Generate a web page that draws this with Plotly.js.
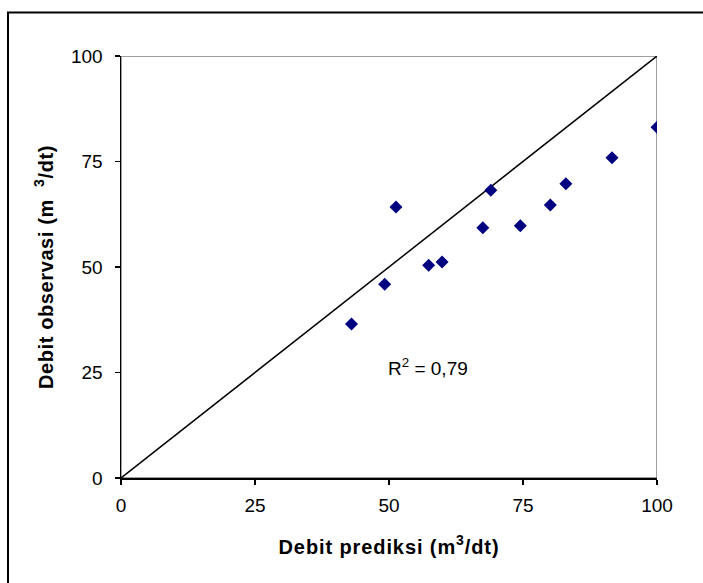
<!DOCTYPE html>
<html>
<head>
<meta charset="utf-8">
<script src="https://cdn.plot.ly/plotly-3.0.1.min.js"></script>
<style>
html,body{margin:0;padding:0;background:#fff;}
#chart{width:703px;height:583px;}
.xtitle{letter-spacing:0.9px;}
.ytitle{letter-spacing:0.6px;}
</style>
</head>
<body>
<div id="chart"></div>
<script>
// Observed vs predicted discharge (m3/dt)
var predicted = [43.0, 49.2, 51.3, 57.4, 59.9, 67.5, 69.0, 74.5, 80.1, 83.0, 91.6, 100.0];
var observed  = [36.5, 45.9, 64.2, 50.4, 51.2, 59.3, 68.2, 59.8, 64.7, 69.7, 75.9, 83.1];
var lineX = [0, 100];
var lineY = [0, 100];
var tickVals = [0, 25, 50, 75, 100];
var tickText = ["0", "25", "50", "75", "100"];
var r2Label = "R<sup>2</sup> = 0,79";

var font = "Liberation Sans, Arial, sans-serif";

var traces = [
  {
    x: lineX, y: lineY, type: "scatter", mode: "lines",
    line: {color: "#000000", width: 1.5}, hoverinfo: "skip", showlegend: false
  },
  {
    x: predicted, y: observed, type: "scatter", mode: "markers",
    marker: {symbol: "diamond", size: 10, color: "#000080", line: {width: 0}},
    showlegend: false
  }
];

var layout = {
  width: 703, height: 583,
  margin: {l: 121, r: 46, t: 56, b: 105},
  paper_bgcolor: "#ffffff", plot_bgcolor: "#ffffff",
  font: {family: font, size: 19, color: "#000000"},
  showlegend: false,
  xaxis: {
    range: [0, 100], tickvals: tickVals, ticktext: tickText,
    showgrid: false, zeroline: false,
    showline: true, linecolor: "#000000", linewidth: 1.5,
    ticks: "outside", ticklen: 5, tickcolor: "#000000", tickwidth: 1.5,
    ticklabelstandoff: 5,
    tickfont: {family: font, size: 19, color: "#000000"},
    title: {text: "<b>Debit prediksi (m<sup>3</sup>/dt)</b>", font: {family: font, size: 20, color: "#000000"}, standoff: 24},
    fixedrange: true
  },
  yaxis: {
    range: [0, 100], tickvals: tickVals, ticktext: tickText,
    showgrid: false, zeroline: false,
    showline: true, linecolor: "#000000", linewidth: 1.5,
    ticks: "outside", ticklen: 5, tickcolor: "#000000", tickwidth: 1.5,
    ticklabelstandoff: 8,
    tickfont: {family: font, size: 19, color: "#000000"},
    title: {text: "<b>Debit observasi (m&nbsp;&nbsp;<sup>3</sup>/dt)</b>", font: {family: font, size: 20, color: "#000000"}, standoff: 12},
    fixedrange: true
  },
  shapes: [
    {type: "rect", xref: "x", yref: "y", x0: 0, x1: 100, y0: 0, y1: 100,
     line: {color: "#808080", width: 1.5}, layer: "below"},
    {type: "rect", xref: "paper", yref: "paper",
     x0: (8 - 121) / 536, x1: (730 - 121) / 536,
     y0: (478 - 620) / 422, y1: (478 - 12.5) / 422,
     line: {color: "#000000", width: 2}, layer: "below"}
  ],
  annotations: [
    {x: 57.3, y: 26.3, xref: "x", yref: "y", text: r2Label, showarrow: false,
     font: {family: font, size: 19, color: "#000000"}}
  ]
};

Plotly.newPlot("chart", traces, layout, {displayModeBar: false, staticPlot: true});
</script>
</body>
</html>
